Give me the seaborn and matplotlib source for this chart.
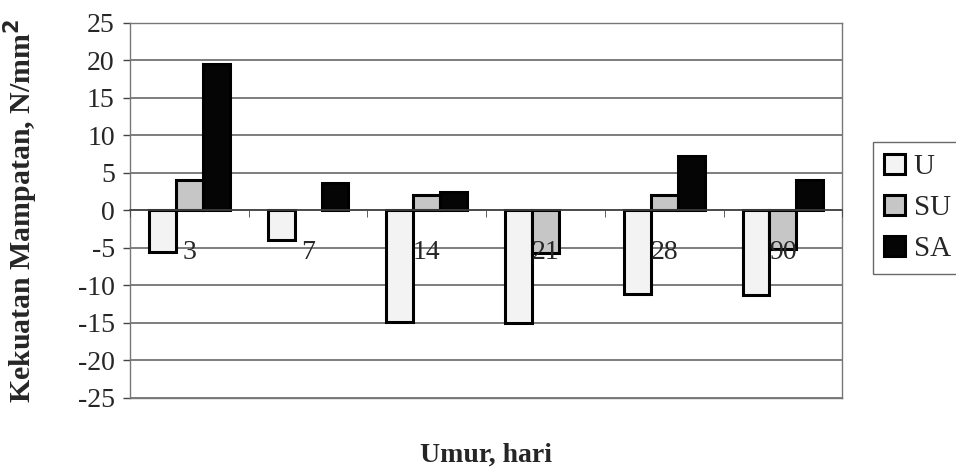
import matplotlib
matplotlib.use("Agg")
import matplotlib.pyplot as plt
import numpy as np
import pandas as pd
import seaborn as sns

# umur (hari) dan kekuatan mampatan relatif, N/mm2
umur = ["3", "7", "14", "21", "28", "90"]
u_vals = [-5.5, -4.0, -14.9, -15.0, -11.1, -11.3]
su_vals = [4.0, np.nan, 2.0, -5.7, 2.1, -5.1]
sa_vals = [19.5, 3.7, 2.5, np.nan, 7.3, 4.0]
series = ["U", "SU", "SA"]
y_ticks = list(range(-25, 30, 5))

df = pd.DataFrame({
    "umur": umur * 3,
    "seri": [s for s in series for _ in umur],
    "nilai": u_vals + su_vals + sa_vals,
})

sns.set_style("white")
plt.rcParams["font.family"] = ["Liberation Serif", "DejaVu Serif"]

fig = plt.figure(figsize=(9.56, 4.76), dpi=100)
ax = fig.add_axes([0.136, 0.164, 0.745, 0.788])

palette = {"U": "#f3f3f3", "SU": "#c6c6c6", "SA": "#050505"}
sns.barplot(data=df, x="umur", y="nilai", hue="seri", order=umur, hue_order=series,
            palette=palette, width=0.68, gap=0, errorbar=None, edgecolor="black",
            linewidth=2.2, legend=True, ax=ax, zorder=3)

ax.set_ylim(-25, 25)
ax.set_xlim(-0.5, len(umur) - 0.5)
ax.set_yticks(y_ticks)
ax.set_yticklabels([str(t) for t in y_ticks], fontsize=20)
ax.tick_params(axis="y", direction="out", length=5, width=1, color="#444", pad=6, left=True)
ax.yaxis.grid(True, color="#5a5a5a", linewidth=1.1, zorder=0)
ax.xaxis.grid(False)
for sp in ax.spines.values():
    sp.set_color("#777777")
    sp.set_linewidth(1)

# category labels hang off the zero line, drawn over the bars
ax.set_xticks([])
ax.set_xlabel("Umur, hari", fontsize=20, fontweight="bold", labelpad=32)
ax.set_ylabel("Kekuatan Mampatan, N/mm$^\\mathbf{2}$", fontsize=21.5, fontweight="bold")
ax.yaxis.set_label_coords(-0.127, 0.5)
sec = ax.secondary_xaxis(0.5)
sec.set_zorder(5)
sec.set_alignment("bottom")
sec.set_xticks(range(len(umur)))
sec.set_xticklabels(umur, fontsize=20)
sec.set_xticks(np.arange(-0.5, len(umur)), minor=True)
sec.tick_params(axis="x", which="major", length=0, pad=21)
sec.tick_params(axis="x", which="minor", length=5, direction="out", color="#444")
sec.spines["bottom"].set_color("#444")
sec.spines["bottom"].set_linewidth(1.2)

handles, labels = ax.get_legend_handles_labels()
ax.get_legend().remove()
leg = fig.legend(handles, labels, loc="upper left", bbox_to_anchor=(0.913, 0.702),
                 fontsize=21, frameon=True, fancybox=False, edgecolor="#444",
                 handlelength=0.7, handleheight=0.7, handletextpad=0.3,
                 labelspacing=0.5, borderpad=0.4, borderaxespad=0)
leg.get_frame().set_linewidth(1)

fig.savefig("out.png", dpi=100)
